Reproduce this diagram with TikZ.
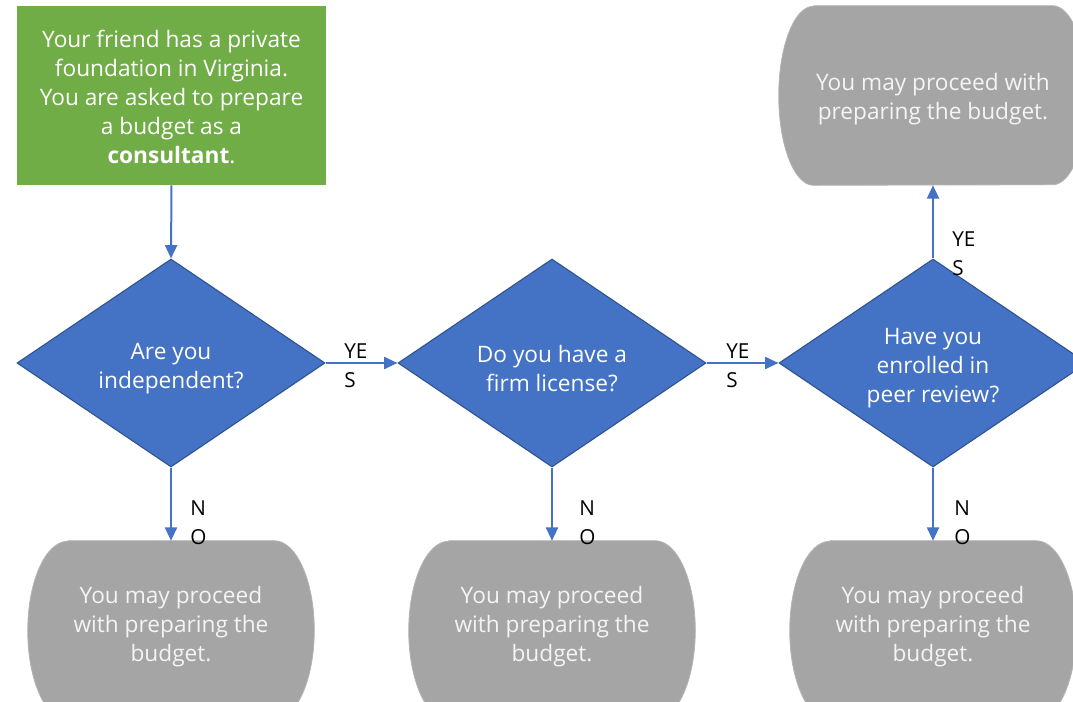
\documentclass[tikz,border=0pt]{standalone}
\usepackage{fontspec}
\setmainfont{Open Sans}
\usetikzlibrary{shapes.geometric,arrows.meta}
\definecolor{gfill}{HTML}{70AD47}
\definecolor{bfill}{HTML}{4472C4}
\definecolor{bdraw}{HTML}{2F528F}
\definecolor{tfill}{HTML}{A5A5A5}
\definecolor{tedge}{HTML}{B4B4B4}
\definecolor{ttext}{HTML}{F4F4F4}
\pgfdeclarelayer{bg}
\pgfsetlayers{bg,main}
\newcommand\drawtermbg[2]{%
  \begin{pgfonlayer}{bg}
  \filldraw[fill=tfill, draw=tedge, line width=0.6pt] ([xshift=#2]#1.north west) -- ([xshift=-#2]#1.north east)
    arc[start angle=90,end angle=-90,x radius=#2,y radius=67.125pt]
    -- ([xshift=#2]#1.south west)
    arc[start angle=270,end angle=90,x radius=#2,y radius=67.125pt] -- cycle;
  \end{pgfonlayer}}
\begin{document}
\begin{tikzpicture}[x=0.75pt,y=-0.75pt,
  txt/.style={font=\fontsize{17}{21.75}\selectfont, align=center, text=white},
  startbox/.style={txt, rectangle, fill=gfill, minimum width=231.75pt, minimum height=134.25pt, inner sep=0pt},
  decision/.style={diamond, fill=bfill, draw=bdraw, line width=0.8pt, minimum width=231pt, minimum height=156pt, inner sep=0pt},
  term/.style={rectangle, minimum width=214.5pt, minimum height=134.25pt, inner sep=0pt},
  intext/.style={txt, inner sep=0pt},
  conn/.style={draw=bfill, line width=1.5pt, -{Triangle[length=10pt,width=9pt]}},
  lbl/.style={font=\fontsize{15.5}{21.75}\selectfont, align=left, text=black, inner sep=0pt}]
\begin{pgfonlayer}{bg}
\fill[white] (0,0) rectangle (1073,702);
\end{pgfonlayer}
\useasboundingbox (0,0) rectangle (1073,702);

\node[startbox, label={[intext, yshift=-1.2pt]center:Your friend has a private\\foundation in Virginia.\\You are asked to prepare\\a budget as a\\\textbf{consultant}.}] (start) at (171.5,95.5) {};

\node[decision, label={[intext, yshift=-4.5pt]center:Are you\\independent?}] (d1) at (171,363) {};
\node[decision, label={[intext, yshift=-4.5pt]center:Do you have a\\firm license?}] (d2) at (552,363) {};
\node[decision, label={[intext, yshift=-4pt]center:Have you\\enrolled in\\peer review?}] (d3) at (933,363) {};

\node[term, label={[intext, text=ttext, yshift=3pt]center:You may proceed\\with preparing the\\budget.}] (t1) at (171,630.5) {};
\node[term, label={[intext, text=ttext, yshift=3pt]center:You may proceed\\with preparing the\\budget.}] (t2) at (552,630.5) {};
\node[term, label={[intext, text=ttext, yshift=3pt]center:You may proceed\\with preparing the\\budget.}] (t3) at (933,630.5) {};
\node[term, minimum width=231pt, label={[intext, text=ttext, yshift=-2.8pt]center:You may proceed with\\preparing the budget.}] (t4) at (933,95.5) {};
\drawtermbg{t1}{30pt}
\drawtermbg{t2}{30pt}
\drawtermbg{t3}{30pt}
\drawtermbg{t4}{26pt}

\draw[conn] (start.south) -- (d1.north);
\draw[conn] (d1.east) -- (d2.west);
\draw[conn] (d2.east) -- (d3.west);
\draw[conn] (d3.north) -- (t4.south);
\draw[conn] (d1.south) -- (t1.north);
\draw[conn] (d2.south) -- (t2.north);
\draw[conn] (d3.south) -- (t3.north);

\node[lbl, anchor=north west] (y1) at (344,343) {YE\\S};
\node[lbl, anchor=north west] (y2) at (726,343) {YE\\S};
\node[lbl, anchor=north west] (y3) at (952,231) {YE\\S};
\node[lbl, anchor=north west] (n1) at (190,500) {N\\O};
\node[lbl, anchor=north west] (n2) at (579,500) {N\\O};
\node[lbl, anchor=north west] (n3) at (954,500) {N\\O};
\end{tikzpicture}
\end{document}
